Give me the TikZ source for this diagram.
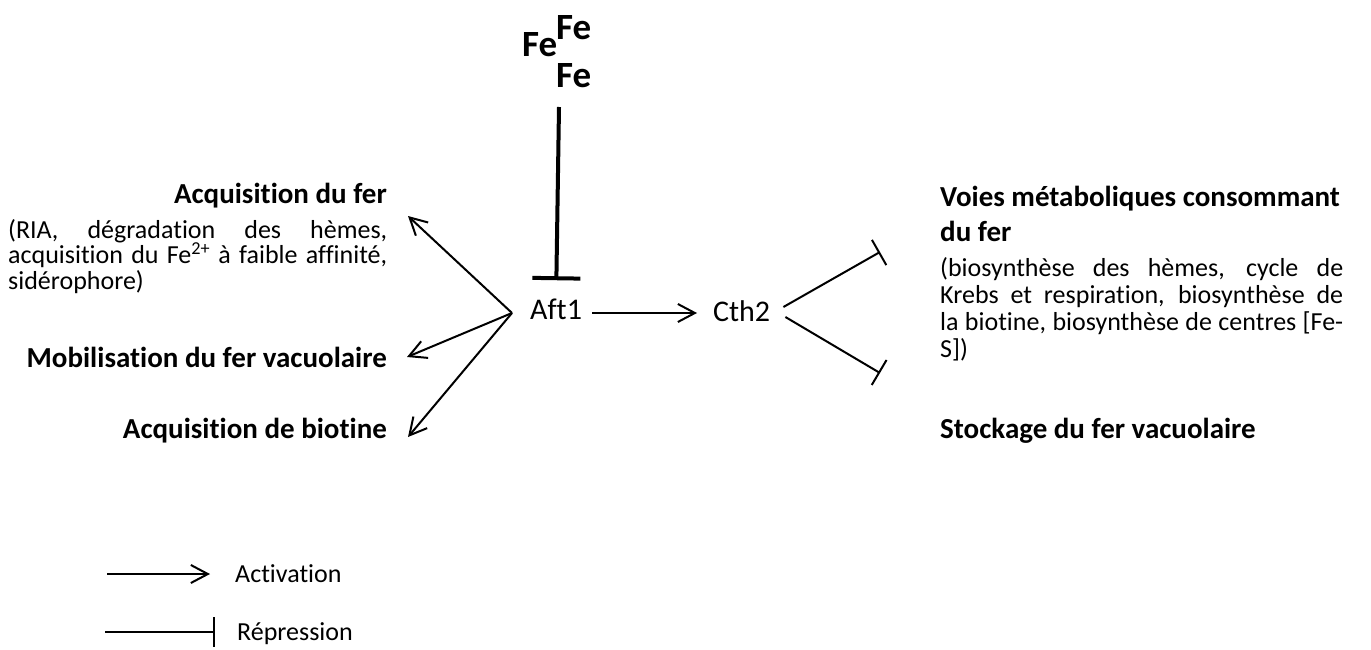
\documentclass[tikz,border=0pt]{standalone}
\usepackage{fontspec}
\setmainfont{Carlito}[Ligatures=NoCommon]
\usetikzlibrary{arrows.meta}
\begin{document}
\begin{tikzpicture}[x=1pt,y=-1pt,
  lbl/.style={inner sep=0pt, font=\fontsize{30}{36}\selectfont},
  head/.style={inner sep=0pt, font=\fontsize{29}{35}\selectfont\bfseries},
  para/.style={inner sep=0pt, font=\fontsize{26}{25.5}\selectfont},
  fe/.style={inner sep=0pt, font=\fontsize{37}{40}\selectfont\bfseries},
  leg/.style={inner sep=0pt, font=\fontsize{26}{30}\selectfont},
  act/.style={line width=2pt, -{Straight Barb[length=17pt,width=18pt]}},
  rep/.style={line width=2pt, -{Bar[width=29pt]}},
]
\useasboundingbox (0,0) rectangle (1371,650);

% Fe cluster
\node[fe, anchor=base west] (fe1) at (522,57) {Fe};
\node[fe, anchor=base west] (fe2) at (556,40) {Fe};
\node[fe, anchor=base west] (fe3) at (556,88) {Fe};

% central nodes
\node[lbl, anchor=base west] (aft) at (530,319) {Aft1};
\node[lbl, anchor=base west] (cth) at (713,321) {Cth2};

% left texts
\node[head, anchor=base east] (acqfer) at (387,203) {Acquisition du fer};
\node[para, anchor=base west] (acqtxt) at (8,238) {\parbox[t]{379pt}{%
  \makebox[379pt][s]{(RIA, dégradation des hèmes,}\\
  \makebox[379pt][s]{acquisition du Fe\textsuperscript{2+} à faible affinité,}\\
  sidérophore)}};
\node[head, anchor=base east] (mobil) at (387,367) {Mobilisation du fer vacuolaire};
\node[head, anchor=base east] (biot) at (387,438) {Acquisition de biotine};

% right texts
\node[head, anchor=base west] (voies) at (940,206) {\parbox[t]{420pt}{Voies métaboliques consommant\\du fer}};
\node[para, font=\fontsize{26}{27}\selectfont, anchor=base west] (voiestxt) at (940,276) {\parbox[t]{403pt}{%
  \makebox[403pt][s]{(biosynthèse des hèmes, cycle de}\\
  \makebox[403pt][s]{Krebs et respiration, biosynthèse de}\\
  \makebox[403pt][s]{la biotine, biosynthèse de centres [Fe-}\\
  S])}};
\node[head, anchor=base west] (stock) at (940,438) {Stockage du fer vacuolaire};

% connector points
\coordinate (fetop) at (559,107);
\coordinate (hub) at ([xshift=-18pt,yshift=6pt]aft.base west);
\coordinate (t1) at (408,216);
\coordinate (t2) at (407,357);
\coordinate (t3) at (408,437);
\coordinate (r1) at (880,252);
\coordinate (r2) at (880,373);

% Fe repression of Aft1
\draw[line width=4pt, -{Bar[width=48pt]}, shorten >=18pt] (fetop) -- (aft.north);

% Aft1 activations
\draw[act] (hub) -- (t1);
\draw[act] (hub) -- (t2);
\draw[act] (hub) -- (t3);
\draw[act] ([xshift=10pt,yshift=6pt]aft.base east) -- ([xshift=-16pt,yshift=8pt]cth.base west);

% Cth2 repressions
\draw[rep] ([xshift=13pt,yshift=14pt]cth.base east) -- (r1);
\draw[rep] ([xshift=15pt,yshift=4pt]cth.base east) -- (r2);

% legend
\coordinate (la1) at (107,574);
\coordinate (la2) at (210,574);
\coordinate (lr1) at (105,632);
\coordinate (lr2) at (215,632);
\draw[act] (la1) -- (la2);
\draw[rep, -{Bar[width=30pt]}] (lr1) -- (lr2);
\node[leg, anchor=base west] (lact) at (235,582) {Activation};
\node[leg, anchor=base west] (lrep) at (237,640) {Répression};
\end{tikzpicture}
\end{document}
